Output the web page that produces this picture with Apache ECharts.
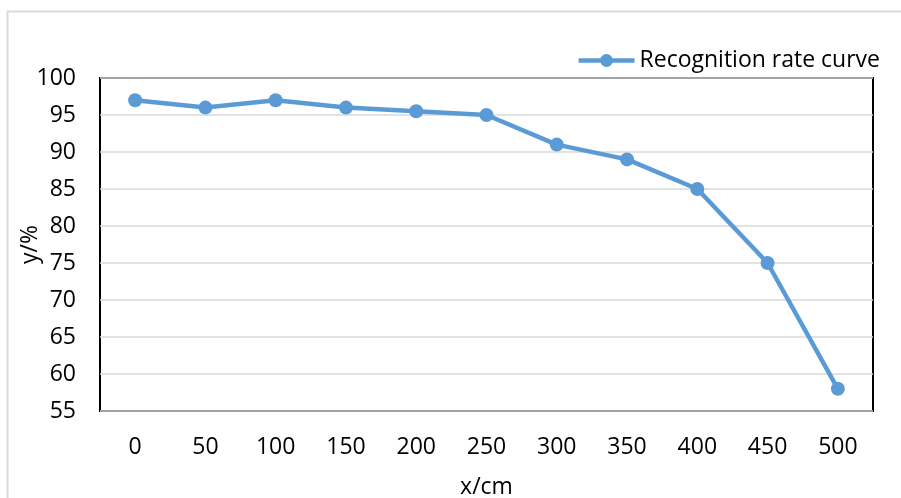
<!DOCTYPE html>
<html>
<head>
<meta charset="utf-8">
<style>
  html, body { margin: 0; padding: 0; background: #fff; }
  #chart { width: 901px; height: 498px; }
</style>
<script src="https://cdn.jsdelivr.net/npm/echarts@6/dist/echarts.min.js"></script>
</head>
<body>
<div id="chart"></div>
<script>
// Distance (cm) and recognition rate (%)
const distances = ['0', '50', '100', '150', '200', '250', '300', '350', '400', '450', '500'];
const recognitionRate = [97, 96, 97, 96, 95.5, 95, 91, 89, 85, 75, 58];
const seriesName = 'Recognition rate curve';

const FONT = '"Open Sans", "Noto Sans", sans-serif';
const chart = echarts.init(document.getElementById('chart'));

chart.setOption({
  animation: false,
  textStyle: { fontFamily: FONT },
  graphic: [{
    type: 'rect',
    shape: { x: 7.5, y: 11.5, width: 1000, height: 600 },
    style: { fill: 'none', stroke: '#d9d9d9', lineWidth: 2 },
    silent: true
  }],
  legend: {
    data: [seriesName],
    right: 16,
    top: 44,
    itemWidth: 56,
    itemHeight: 16,
    itemGap: 4,
    lineStyle: { width: 4.5 },
    textStyle: { fontSize: 23, color: '#000', fontFamily: FONT }
  },
  grid: {
    left: 100, right: 28, top: 78, bottom: 87,
    show: true,
    borderColor: '#000',
    borderWidth: 2,
    containLabel: false,
    outerBoundsMode: 'none'
  },
  xAxis: {
    type: 'category',
    data: distances,
    boundaryGap: true,
    name: 'x/cm',
    nameLocation: 'middle',
    nameGap: 65,
    nameTextStyle: { fontSize: 23, color: '#000' },
    axisLine: { show: false },
    axisTick: { show: false },
    axisLabel: { fontSize: 23, color: '#000', margin: 25 }
  },
  yAxis: {
    type: 'value',
    min: 55,
    max: 100,
    interval: 5,
    name: 'y/%',
    nameLocation: 'middle',
    nameGap: 58,
    nameMoveOverlap: false,
    nameTextStyle: { fontSize: 23, color: '#000' },
    axisLine: { show: false },
    axisTick: { show: false },
    axisLabel: { fontSize: 23, color: '#000', margin: 24 },
    splitLine: { lineStyle: { color: '#d9d9d9', width: 1.5 } }
  },
  series: [{
    name: seriesName,
    type: 'line',
    data: recognitionRate,
    symbol: 'circle',
    symbolSize: 14,
    itemStyle: { color: '#5b9bd5' },
    lineStyle: { color: '#5b9bd5', width: 4.5 }
  }]
});
</script>
</body>
</html>
